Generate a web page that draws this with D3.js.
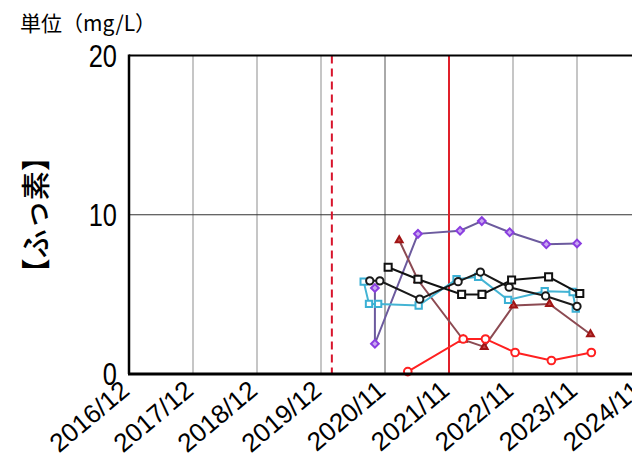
<!DOCTYPE html>
<html>
<head>
<meta charset="utf-8">
<script src="https://cdn.jsdelivr.net/npm/d3@7"></script>
<style>
  body { margin: 0; background: #fff; }
  svg { display: block; }
</style>
</head>
<body>
<script>
// tick labels along the bottom (evenly spaced, not a true time axis)
var tickLabels = ["2016/12", "2017/12", "2018/12", "2019/12", "2020/11", "2021/11", "2022/11", "2023/11", "2024/11"];
var yTicks = [0, 10, 20];

// sampling dates and values, one pair of arrays per series
var purpleDates = ["2020-09-09", "2020-09-09", "2021-05-08", "2022-01-03", "2022-05-07", "2022-10-13", "2023-05-10", "2023-11-01"];
var purpleVals  = [5.4, 1.9, 8.8, 9.0, 9.6, 8.9, 8.15, 8.2];

var darkRedDates = ["2021-01-21", "2021-05-08", "2022-01-21", "2022-05-21", "2022-11-04", "2023-05-28", "2024-01-17"];
var darkRedVals  = [8.4, 5.9, 2.15, 1.7, 4.3, 4.4, 2.5];

var redDates = ["2021-03-11", "2022-01-21", "2022-05-28", "2022-11-13", "2023-06-08", "2024-01-22"];
var redVals  = [0.15, 2.2, 2.2, 1.35, 0.85, 1.35];

var blackSqDates = ["2020-11-19", "2021-05-08", "2022-01-12", "2022-05-08", "2022-10-24", "2023-05-23", "2023-11-17"];
var blackSqVals  = [6.7, 5.95, 5.0, 5.0, 5.9, 6.1, 5.05];

var blackCirDates = ["2020-08-13", "2020-10-05", "2021-05-18", "2021-12-23", "2022-04-29", "2022-10-10", "2023-05-06", "2023-11-01"];
var blackCirVals  = [5.85, 5.85, 4.7, 5.8, 6.4, 5.45, 4.9, 4.25];

var blueDates = ["2020-07-12", "2020-08-09", "2020-09-26", "2021-05-12", "2021-12-14", "2022-04-16", "2022-10-04", "2023-05-01", "2023-10-07", "2023-10-25"];
var blueVals  = [5.8, 4.4, 4.4, 4.3, 5.95, 6.1, 4.65, 5.2, 5.15, 4.1];

var dashedDate = "2020-01-27";
var solidDate = "2021-11-01";

var width = 632, height = 459;
var margin = { top: 55.5, left: 129, bottom: 85 };
var plotRight = 641; // the frame runs past the window edge

var parse = d3.timeParse("%Y/%m");
var parseDay = d3.timeParse("%Y-%m-%d");
var tickDates = tickLabels.map(parse);

// piecewise time scale: each labelled tick gets the same width
var x = d3.scaleTime()
	.domain(tickDates)
	.range(tickDates.map(function (d, i) { return margin.left + i * (plotRight - margin.left) / (tickDates.length - 1); }));

var y = d3.scaleLinear()
	.domain([0, 20])
	.range([height - margin.bottom, margin.top]);

var svg = d3.select("body").append("svg")
	.attr("width", width)
	.attr("height", height);

// grid
svg.append("g").selectAll("line")
	.data(tickDates.slice(1))
	.enter().append("line")
	.attr("x1", function (d) { return x(d); })
	.attr("x2", function (d) { return x(d); })
	.attr("y1", y(20))
	.attr("y2", y(0))
	.attr("stroke", function (d, i) { return i === 3 ? "#555" : "#b8b8b8"; })
	.attr("stroke-width", function (d, i) { return i === 3 ? 1 : 1.6; });

svg.append("line")
	.attr("x1", margin.left).attr("x2", plotRight)
	.attr("y1", y(10)).attr("y2", y(10))
	.attr("stroke", "#333").attr("stroke-width", 1);

// reference lines
svg.append("line")
	.attr("x1", x(parseDay(dashedDate))).attr("x2", x(parseDay(dashedDate)))
	.attr("y1", y(20)).attr("y2", y(0))
	.attr("stroke", "#d8142c").attr("stroke-width", 2)
	.attr("stroke-dasharray", "8,5");

svg.append("line")
	.attr("x1", x(parseDay(solidDate))).attr("x2", x(parseDay(solidDate)))
	.attr("y1", y(20)).attr("y2", y(0))
	.attr("stroke", "#e0202a").attr("stroke-width", 2);

// series (rot: rotate the symbol, used to turn a square into a diamond)
var series = [
	{ dates: purpleDates, vals: purpleVals, line: "#6c5a9e", stroke: "#8a3ee0", fill: "#c9a8f0", shape: d3.symbolSquare, size: 30, rot: 45 },
	{ dates: darkRedDates, vals: darkRedVals, line: "#8c4a52", stroke: "#a01414", fill: "#c04848", shape: d3.symbolTriangle, size: 20, rot: 0 },
	{ dates: blueDates, vals: blueVals, line: "#44b4d4", stroke: "#3cb0d4", fill: "#fff", shape: d3.symbolSquare, size: 40, rot: 0 },
	{ dates: blackCirDates, vals: blackCirVals, line: "#1a1a1a", stroke: "#1a1a1a", fill: "#fff", shape: d3.symbolCircle, size: 42, rot: 0 },
	{ dates: blackSqDates, vals: blackSqVals, line: "#111", stroke: "#111", fill: "#fff", shape: d3.symbolSquare, size: 50, rot: 0 },
	{ dates: redDates, vals: redVals, line: "#ff2020", stroke: "#ff2020", fill: "#fff", shape: d3.symbolCircle, size: 46, rot: 0 }
];

var line = d3.line()
	.x(function (d) { return x(d.date); })
	.y(function (d) { return y(d.val); });

series.forEach(function (s) {
	var pts = s.dates.map(function (d, i) { return { date: parseDay(d), val: s.vals[i] }; });
	var g = svg.append("g");
	g.append("path")
		.datum(pts)
		.attr("d", line)
		.attr("fill", "none")
		.attr("stroke", s.line)
		.attr("stroke-width", 2);
	g.selectAll("path.pt")
		.data(pts)
		.enter().append("path")
		.attr("class", "pt")
		.attr("transform", function (d) { return "translate(" + x(d.date) + "," + y(d.val) + ") rotate(" + s.rot + ")"; })
		.attr("d", d3.symbol().type(s.shape).size(s.size))
		.attr("fill", s.fill)
		.attr("stroke", s.stroke)
		.attr("stroke-width", 2);
});

// frame
svg.append("line")
	.attr("x1", margin.left).attr("x2", plotRight)
	.attr("y1", y(20)).attr("y2", y(20))
	.attr("stroke", "#000").attr("stroke-width", 2);
svg.append("line")
	.attr("x1", margin.left - 1).attr("x2", plotRight)
	.attr("y1", y(0)).attr("y2", y(0))
	.attr("stroke", "#000").attr("stroke-width", 3);
svg.append("line")
	.attr("x1", margin.left).attr("x2", margin.left)
	.attr("y1", y(20) - 1).attr("y2", y(0))
	.attr("stroke", "#000").attr("stroke-width", 2.5);

// y tick labels
svg.append("g").selectAll("text")
	.data(yTicks)
	.enter().append("text")
	.attr("x", 0)
	.attr("y", 0)
	.attr("transform", function (d) { return "translate(117," + (y(d) + 11) + ") scale(0.82,1)"; })
	.attr("text-anchor", "end")
	.attr("font-family", "'Liberation Sans', Arial, sans-serif")
	.attr("font-size", 31)
	.attr("fill", "#000")
	.text(function (d) { return d; });

// x tick labels
svg.append("g").selectAll("text")
	.data(tickDates)
	.enter().append("text")
	.attr("transform", function (d) { return "translate(" + (x(d) + 2) + "," + (y(0) + 19) + ") rotate(-40)"; })
	.attr("text-anchor", "end")
	.attr("font-family", "'Liberation Sans', Arial, sans-serif")
	.attr("font-size", 26)
	.attr("fill", "#000")
	.text(function (d, i) { return tickLabels[i]; });

// unit and axis title
svg.append("text")
	.attr("x", 20)
	.attr("y", 31)
	.attr("font-family", "'Noto Sans CJK JP', sans-serif")
	.attr("font-size", 21)
	.attr("fill", "#000")
	.text("単位（mg/L）");

svg.append("text")
	.attr("transform", "translate(47," + y(10) + ") rotate(-90)")
	.attr("text-anchor", "middle")
	.attr("font-family", "'Noto Sans CJK JP', sans-serif")
	.attr("font-size", 29)
	.attr("font-weight", 500)
	.attr("fill", "#000")
	.text("【ふっ素】");
</script>
</body>
</html>
